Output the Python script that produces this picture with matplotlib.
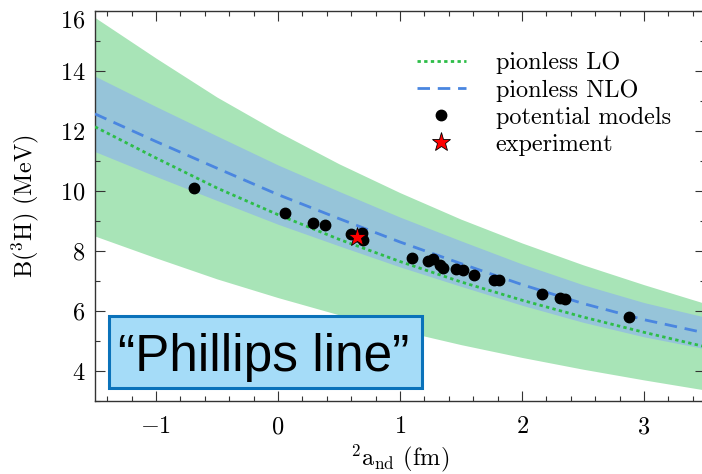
import matplotlib
matplotlib.use("Agg")
import matplotlib.pyplot as plt
from matplotlib.patches import Rectangle
from matplotlib.ticker import MultipleLocator, FixedLocator
from matplotlib.transforms import ScaledTranslation

# ---------------- data ----------------
a_grid = [-1.5, -1.0, -0.5, 0.0, 0.5, 1.0, 1.5, 2.0, 2.5, 3.0, 3.5]
lo_curve = [12.14, 11.10, 10.10, 9.21, 8.39, 7.65, 6.97, 6.36, 5.80, 5.29, 4.81]
nlo_curve = [12.57, 11.65, 10.76, 9.88, 9.08, 8.30, 7.58, 6.88, 6.25, 5.71, 5.27]
LO_REL_UNC = 0.30
NLO_REL_UNC = 0.10

model_a = [-0.69, 0.06, 0.29, 0.385, 0.60, 0.67, 0.69, 0.70, 1.10, 1.23, 1.27,
           1.33, 1.35, 1.46, 1.52, 1.61, 1.77, 1.81, 2.16, 2.31, 2.35, 2.88]
model_B = [10.10, 9.26, 8.92, 8.87, 8.57, 8.45, 8.59, 8.36, 7.77, 7.68, 7.72,
           7.52, 7.43, 7.39, 7.37, 7.21, 7.03, 7.03, 6.58, 6.44, 6.39, 5.81]
exp_a = [0.645]
exp_B = [8.48]

x_ticks = [-1, 0, 1, 2, 3]
y_ticks = [4, 6, 8, 10, 12, 14, 16]
legend_labels = ["pionless LO", "pionless NLO", "potential models", "experiment"]
box_text = "\u201cPhillips line\u201d"

# ---------------- style ----------------
plt.rcParams.update({
    "font.family": "serif",
    "font.serif": ["cmr10", "DejaVu Serif"],
    "mathtext.fontset": "cm",
    "axes.formatter.use_mathtext": True,
    "font.size": 17.5,
    "axes.unicode_minus": True,
})

W, H = 702, 474
fig = plt.figure(figsize=(W / 100, H / 100), dpi=100)
ax = fig.add_axes([95 / W, (H - 401) / H, 610 / W, 390 / H])

lo_low = [v * (1 - LO_REL_UNC) for v in lo_curve]
lo_high = [v * (1 + LO_REL_UNC) for v in lo_curve]
nlo_low = [v * (1 - NLO_REL_UNC) for v in nlo_curve]
nlo_high = [v * (1 + NLO_REL_UNC) for v in nlo_curve]

ax.fill_between(a_grid, lo_low, lo_high, color="#a8e4b7", lw=0, zorder=1)
ax.fill_between(a_grid, nlo_low, nlo_high, color="#96c4d9", lw=0, zorder=2)
ax.plot(a_grid, lo_curve, color="#2dbd48", lw=2.0, ls=(0, (1.2, 1.2)),
        label=legend_labels[0], zorder=3)
ax.plot(a_grid, nlo_curve, color="#4a86e0", lw=2.0, ls=(0, (4.5, 2.8)),
        label=legend_labels[1], zorder=3)
ax.plot(model_a, model_B, ls="none", marker="o", color="black", ms=7.5,
        label=legend_labels[2], zorder=4)
ax.plot(exp_a, exp_B, ls="none", marker="*", mfc="red", mec="black", mew=0.6,
        ms=14, label=legend_labels[3], zorder=5)

ax.set_xlim(-1.5, 3.5)
ax.set_ylim(3, 16)
ax.xaxis.set_major_locator(FixedLocator(x_ticks))
ax.yaxis.set_major_locator(FixedLocator(y_ticks))
ax.xaxis.set_minor_locator(MultipleLocator(0.2))
ax.yaxis.set_minor_locator(MultipleLocator(1))

for s in ax.spines.values():
    s.set_color("#333333")
    s.set_linewidth(1.0)
ax.spines["right"].set_visible(False)

ax.tick_params(which="both", direction="in", top=True, right=True,
               color="#333333", width=0.8)
ax.tick_params(which="major", length=7.2)
ax.tick_params(which="minor", length=3.6)
ax.tick_params(axis="x", pad=11)
ax.tick_params(axis="y", pad=7)

ax.set_xlabel(r"${}^{2}\mathrm{a}_{\mathrm{nd}}$ (fm)")
ax.xaxis.set_label_coords(0.5, (401 - 442) / 390)
ax.xaxis.label.set_va("top")
ax.set_ylabel(r"B($^{3}$H) (MeV)")
ax.yaxis.set_label_coords((41 - 95) / 610, 0.5)

# top y tick label sits a little lower than its tick, as in the reference
fig.canvas.draw()
top_lbl = ax.yaxis.get_major_ticks()[-1].label1
top_lbl.set_transform(top_lbl.get_transform() +
                      ScaledTranslation(0, -8 / 100, fig.dpi_scale_trans))

leg = ax.legend(loc="upper left", bbox_to_anchor=(417 / W, 1 - 52 / H),
                bbox_transform=fig.transFigure, frameon=False, borderpad=0,
                borderaxespad=0, handlelength=2.0, handletextpad=1.23,
                labelspacing=0.2, numpoints=1)

# "Phillips line" annotation box
fig.add_artist(Rectangle((109 / W, (H - 388) / H), (422 - 109) / W, (388 - 316) / H,
                         transform=fig.transFigure, facecolor="#a5dcf8",
                         edgecolor="#0a72ba", linewidth=2.2, zorder=5))
fig.text(118 / W, 1 - 370.7 / H, box_text, family="Liberation Sans",
         fontsize=37, ha="left", va="baseline", color="black", zorder=6)

fig.savefig("out.png", dpi=100)
